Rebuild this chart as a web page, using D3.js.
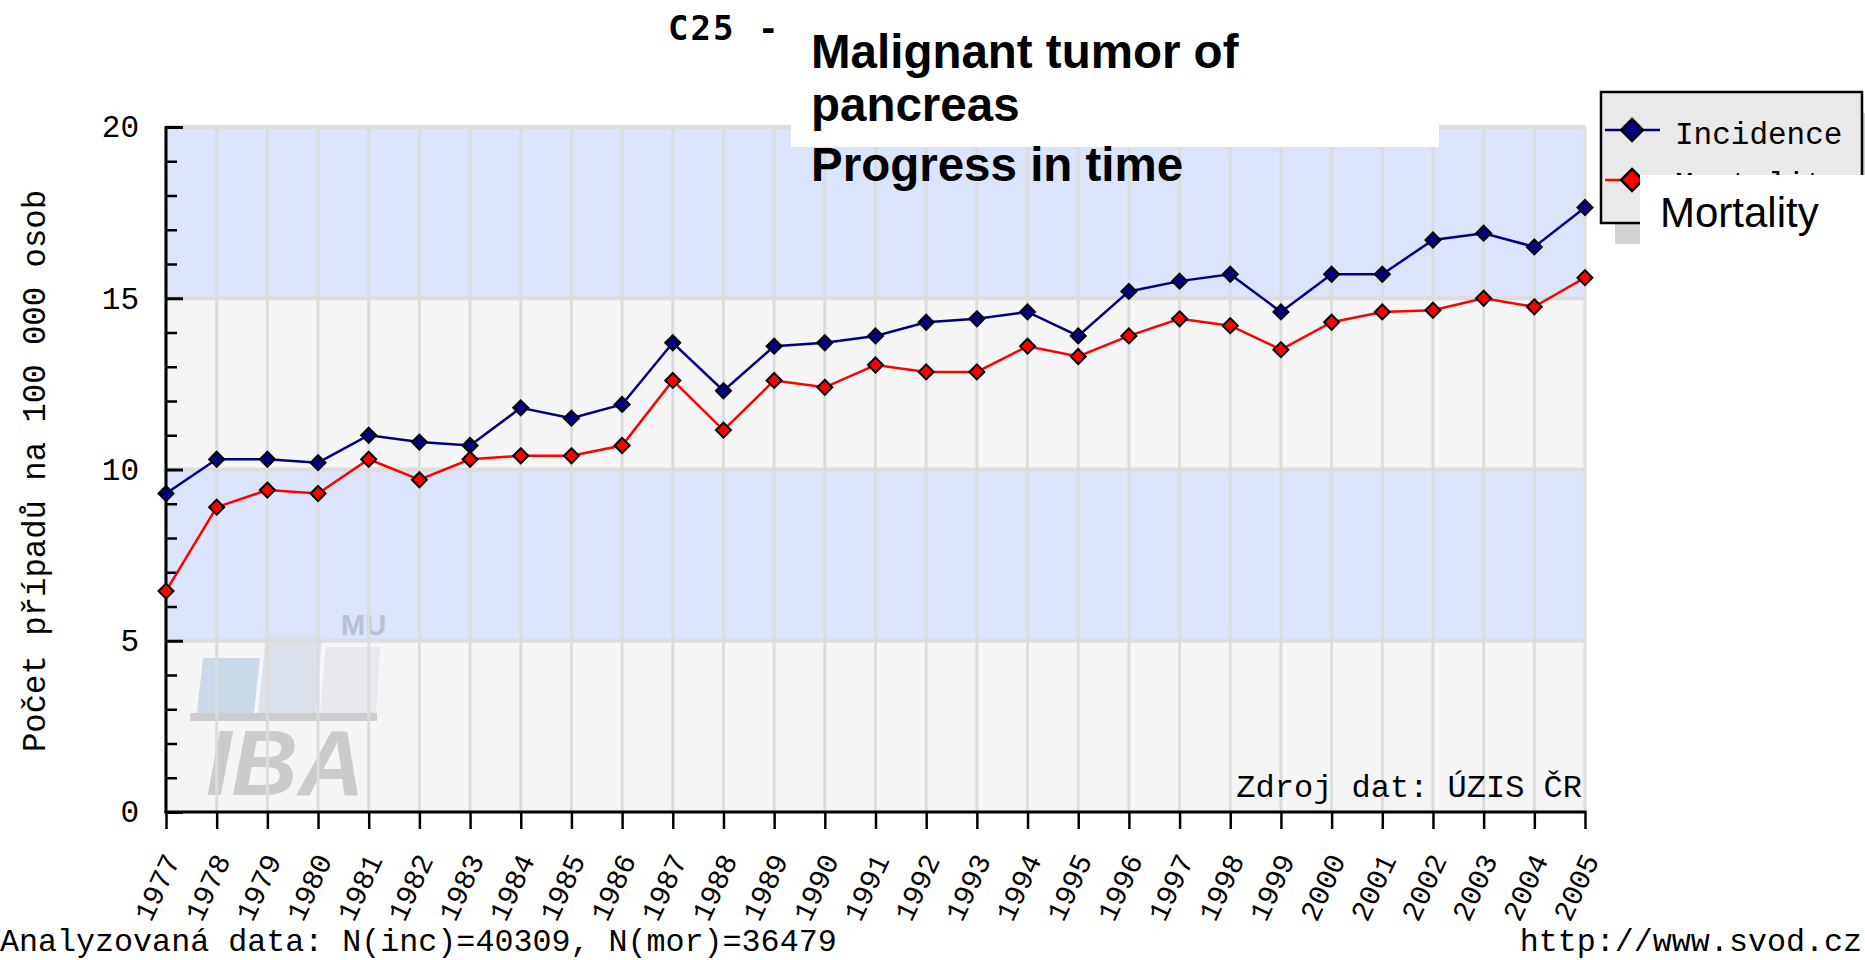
<!DOCTYPE html>
<html>
<head>
<meta charset="utf-8">
<script src="https://cdn.jsdelivr.net/npm/d3@7"></script>
<style>
  html, body { margin: 0; padding: 0; background: #ffffff; overflow: hidden; }
  svg { display: block; }
  .px { font-family: "Liberation Mono", "DejaVu Sans Mono", monospace; fill: #000; }
</style>
</head>
<body>
<svg id="chart" width="1865" height="960"></svg>
<script>
// ---------- data ----------
const years = ["1977","1978","1979","1980","1981","1982","1983","1984","1985","1986",
               "1987","1988","1989","1990","1991","1992","1993","1994","1995","1996",
               "1997","1998","1999","2000","2001","2002","2003","2004","2005"];
const incidence = [9.3, 10.3, 10.3, 10.2, 11.0, 10.8, 10.7, 11.8, 11.5, 11.9,
                   13.7, 12.3, 13.6, 13.7, 13.9, 14.3, 14.4, 14.6, 13.9, 15.2,
                   15.5, 15.7, 14.6, 15.7, 15.7, 16.7, 16.9, 16.5, 17.65];
const mortality = [6.45, 8.9, 9.4, 9.3, 10.3, 9.7, 10.3, 10.4, 10.4, 10.7,
                   12.6, 11.15, 12.6, 12.4, 13.05, 12.85, 12.85, 13.6, 13.3, 13.9,
                   14.4, 14.2, 13.5, 14.3, 14.6, 14.65, 15.0, 14.75, 15.6];
const seriesNames = ["Incidence", "Mortality"];
const yMajorTicks = [0, 5, 10, 15, 20];
const yMinorTicks = [1,2,3,4,6,7,8,9,11,12,13,14,16,17,18,19];
const bands = [[15, 20], [5, 10]];          // light blue bands
const grayBands = [[10, 15], [0, 5]];
const titleCode = "C25 -";
const titleLines = ["Malignant tumor of", "pancreas", "Progress in time"];
const yLabel = "Počet případů na 100 000 osob";
const sourceText = "Zdroj dat: ÚZIS ČR";
const footLeft = "Analyzovaná data: N(inc)=40309, N(mor)=36479";
const footRight = "http://www.svod.cz";

// ---------- setup ----------
const svg = d3.select("#chart");
const X0 = 166, X1 = 1585, Y0 = 812, Y1 = 127;
const x = d3.scalePoint().domain(years).range([X0, X1]);
const y = d3.scaleLinear().domain([0, 20]).range([Y0, Y1]);
const colors = { Incidence: "#000080", Mortality: "#ff0000" };

// bands
svg.append("g").selectAll("rect").data(bands).join("rect")
  .attr("x", X0).attr("width", X1 - X0)
  .attr("y", d => y(d[1])).attr("height", d => y(d[0]) - y(d[1]))
  .attr("fill", "#dbe4fb");
svg.append("g").selectAll("rect").data(grayBands).join("rect")
  .attr("x", X0).attr("width", X1 - X0)
  .attr("y", d => y(d[1])).attr("height", d => y(d[0]) - y(d[1]))
  .attr("fill", "#f5f5f5");

// watermark logo (IBA MU)
const logo = svg.append("g");
logo.append("polygon").attr("points", "203,658 260,658 254,713 197,713").attr("fill", "#c9d9e7");
logo.append("polygon").attr("points", "266,635 322,635 316,713 258,713").attr("fill", "#dbe1eb");
logo.append("polygon").attr("points", "326,647 380,647 376,713 320,713").attr("fill", "#e6e8ee");
logo.append("rect").attr("x", 190).attr("y", 713).attr("width", 187).attr("height", 8).attr("fill", "#cdcdcd");
logo.append("text").attr("x", 206).attr("y", 795)
  .attr("font-family", "Liberation Sans, Arial, sans-serif").attr("font-weight", "bold")
  .attr("font-style", "italic").attr("font-size", 92).attr("fill", "#cbcbcb").text("IBA");
logo.append("text").attr("x", 341).attr("y", 635)
  .attr("font-family", "Liberation Sans, Arial, sans-serif").attr("font-weight", "bold")
  .attr("font-size", 29).attr("fill", "#b8c0d2").text("MU");

// grid
svg.append("g").selectAll("line").data(years).join("line")
  .attr("x1", d => x(d)).attr("x2", d => x(d)).attr("y1", Y1).attr("y2", Y0)
  .attr("stroke", "#dcdcdc").attr("stroke-width", 3);
svg.append("g").selectAll("line").data(yMajorTicks.filter(v => v > 0)).join("line")
  .attr("x1", X0).attr("x2", X1).attr("y1", d => y(d)).attr("y2", d => y(d))
  .attr("stroke", "#dcdcdc").attr("stroke-width", 4);

// y axis
const yMinor = svg.append("g").attr("transform", `translate(${X0},0)`)
  .call(d3.axisLeft(y).tickValues(yMinorTicks).tickSize(-11).tickFormat(""));
const yMajor = svg.append("g").attr("transform", `translate(${X0},0)`)
  .call(d3.axisLeft(y).tickValues(yMajorTicks).tickSize(-17).tickPadding(27).tickFormat(d3.format("d")));
[yMinor, yMajor].forEach(g => { g.select(".domain").remove(); });
yMinor.selectAll("line").attr("stroke", "#000").attr("stroke-width", 2.5);
yMajor.selectAll("line").attr("stroke", "#000").attr("stroke-width", 3);
yMajor.selectAll("text").attr("class", "px").attr("font-size", 31).attr("fill", "#000");
svg.append("line").attr("x1", X0).attr("x2", X0).attr("y1", Y1 - 1).attr("y2", Y0 + 1)
  .attr("stroke", "#000").attr("stroke-width", 3);

// x axis
const xAxis = svg.append("g").attr("transform", `translate(0,${Y0})`)
  .call(d3.axisBottom(x).tickSize(17).tickPadding(0));
xAxis.select(".domain").remove();
xAxis.selectAll("line").attr("stroke", "#000").attr("stroke-width", 2.5);
xAxis.selectAll("text")
  .attr("class", "px").attr("font-size", 29).attr("fill", "#000")
  .attr("text-anchor", "end")
  .attr("x", 0).attr("y", 0).attr("dy", null)
  .attr("transform", "translate(14,48) rotate(-65)");
svg.append("line").attr("x1", X0 - 1.5).attr("x2", X1 + 1.5).attr("y1", Y0).attr("y2", Y0)
  .attr("stroke", "#000").attr("stroke-width", 3);

// lines + markers
const line = d3.line().x((d, i) => x(years[i])).y(d => y(d));
const series = [{ name: "Incidence", values: incidence }, { name: "Mortality", values: mortality }];
series.forEach(s => {
  svg.append("path").datum(s.values).attr("d", line)
    .attr("fill", "none").attr("stroke", colors[s.name]).attr("stroke-width", 2.5);
});
const diamond = r => `M0,${-r}L${r},0L0,${r}L${-r},0Z`;
series.forEach(s => {
  svg.append("g").selectAll("path").data(s.values).join("path")
    .attr("d", diamond(7.5))
    .attr("transform", (d, i) => `translate(${x(years[i])},${y(d)})`)
    .attr("fill", colors[s.name]).attr("stroke", "#000").attr("stroke-width", 2);
});

// axis title
svg.append("text").attr("class", "px").attr("font-size", 32.3)
  .attr("text-anchor", "middle").attr("transform", "translate(45,471) rotate(-90)")
  .text(yLabel);

// source & footers
svg.append("text").attr("class", "px").attr("font-size", 32)
  .attr("text-anchor", "end").attr("x", 1582).attr("y", 797).text(sourceText);
svg.append("text").attr("class", "px").attr("font-size", 31.7)
  .attr("x", 0).attr("y", 951).text(footLeft);
svg.append("text").attr("class", "px").attr("font-size", 31.7)
  .attr("text-anchor", "end").attr("x", 1862).attr("y", 951).text(footRight);

// title
svg.append("text").attr("x", 668).attr("y", 40)
  .attr("font-family", "DejaVu Sans Mono, monospace").attr("font-weight", "bold")
  .attr("font-size", 34).attr("letter-spacing", 2).text(titleCode);
svg.append("rect").attr("x", 791).attr("y", 0).attr("width", 648).attr("height", 147).attr("fill", "#fff");
const titleBase = [68, 121, 181];
svg.append("g").selectAll("text").data(titleLines).join("text")
  .attr("x", 811).attr("y", (d, i) => titleBase[i])
  .attr("font-family", "Liberation Sans, Arial, sans-serif").attr("font-weight", "bold")
  .attr("font-size", 47.5).attr("fill", "#000").text(d => d);

// legend
const lg = svg.append("g");
lg.append("rect").attr("x", 1615).attr("y", 113).attr("width", 262).attr("height", 131).attr("fill", "#d3d3d3");
lg.append("rect").attr("x", 1601).attr("y", 92).attr("width", 261).attr("height", 131)
  .attr("fill", "#e9e9e9").attr("stroke", "#000").attr("stroke-width", 2.5);
const legY = [130, 180];
seriesNames.forEach((n, i) => {
  lg.append("line").attr("x1", 1605).attr("x2", 1660).attr("y1", legY[i]).attr("y2", legY[i])
    .attr("stroke", colors[n]).attr("stroke-width", 2.5);
  lg.append("path").attr("d", diamond(11)).attr("transform", `translate(1632,${legY[i]})`)
    .attr("fill", colors[n]).attr("stroke", "#000").attr("stroke-width", 2.5);
  lg.append("text").attr("class", "px").attr("font-size", 31)
    .attr("x", 1675).attr("y", legY[i] + 14).text(n);
});
// overlaid white label box
lg.append("rect").attr("x", 1640).attr("y", 175).attr("width", 225).attr("height", 72).attr("fill", "#fff");
lg.append("text").attr("x", 1660).attr("y", 227)
  .attr("font-family", "Liberation Sans, Arial, sans-serif").attr("font-size", 42)
  .attr("fill", "#000").text(seriesNames[1]);
</script>
</body>
</html>
